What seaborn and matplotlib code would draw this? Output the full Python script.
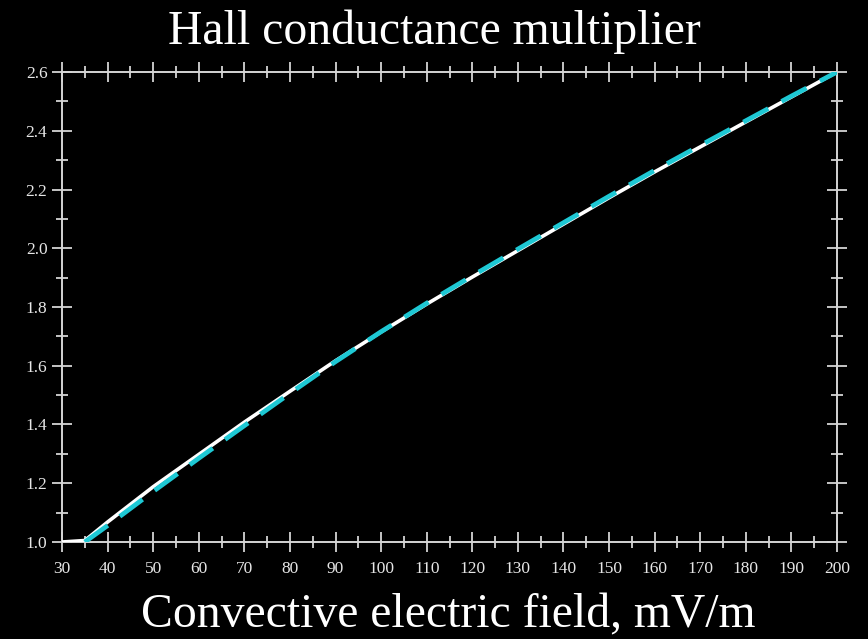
import numpy as np
import pandas as pd
import matplotlib
matplotlib.use("Agg")
import matplotlib.pyplot as plt
from matplotlib.ticker import MultipleLocator
import seaborn as sns

# Convective electric field (mV/m) and the Hall conductance multiplier
field_model = [30, 35, 40, 50, 60, 70, 80, 90, 100, 110, 120, 130, 140, 150,
               160, 170, 180, 190, 200]
mult_model = [1.000, 1.005, 1.068, 1.188, 1.298, 1.408, 1.513, 1.617, 1.715,
              1.810, 1.902, 1.992, 2.082, 2.172, 2.260, 2.345, 2.430, 2.515, 2.600]

field_fit = [35, 40, 50, 60, 70, 80, 90, 100, 110, 120, 130, 140, 150, 160,
             170, 180, 190, 200]
mult_fit = [1.000, 1.056, 1.172, 1.285, 1.396, 1.506, 1.614, 1.716, 1.813,
            1.906, 1.997, 2.087, 2.177, 2.265, 2.350, 2.434, 2.518, 2.600]

title_text = "Hall conductance multiplier"
xlabel_text = "Convective electric field, mV/m"

sns.set_style("dark", {"axes.facecolor": "black", "figure.facecolor": "black"})
plt.rcParams["font.family"] = ["Liberation Serif", "DejaVu Serif"]

df_model = pd.DataFrame({"E": field_model, "M": mult_model})
df_fit = pd.DataFrame({"E": field_fit, "M": mult_fit})

fig = plt.figure(figsize=(8.68, 6.39), dpi=100, facecolor="black")
ax = fig.add_axes([62 / 868, 1 - 542 / 639, 775 / 868, 470 / 639])
ax.set_facecolor("black")

sns.lineplot(data=df_model, x="E", y="M", ax=ax, color="white", lw=2.6,
             zorder=3)
sns.lineplot(data=df_fit, x="E", y="M", ax=ax, color="#1ec8d4", lw=3.4,
             dashes=False, zorder=4)
ax.lines[-1].set_dashes([6, 3.2])

ax.set_xlim(30, 200)
ax.set_ylim(1.0, 2.6)
ax.xaxis.set_major_locator(MultipleLocator(10))
ax.xaxis.set_minor_locator(MultipleLocator(5))
ax.yaxis.set_major_locator(MultipleLocator(0.2))
ax.yaxis.set_minor_locator(MultipleLocator(0.1))
ax.yaxis.set_major_formatter(matplotlib.ticker.FormatStrFormatter("%.1f"))

frame_col = "#d4d4d4"
for s in ax.spines.values():
    s.set_visible(True)
    s.set_color(frame_col)
    s.set_linewidth(1.4)

ax.tick_params(which="both", direction="inout", color=frame_col, width=1.3,
               top=True, right=True, bottom=True, left=True,
               labelcolor="#e6e6e6", labelsize=12.5)
ax.tick_params(which="major", length=15)
ax.tick_params(which="minor", length=8)
ax.tick_params(axis="x", which="major", pad=6)
ax.tick_params(axis="y", which="major", pad=3)
ax.grid(False)

ax.set_xlabel("")
ax.set_ylabel("")
fig.text(0.5, 1 - 32 / 639, title_text, ha="center", va="center",
         color="white", fontsize=34.3)
fig.text(0.516, 1 - 615 / 639, xlabel_text, ha="center", va="center",
         color="white", fontsize=34.3)

fig.savefig("out.png", dpi=100, facecolor="black")
